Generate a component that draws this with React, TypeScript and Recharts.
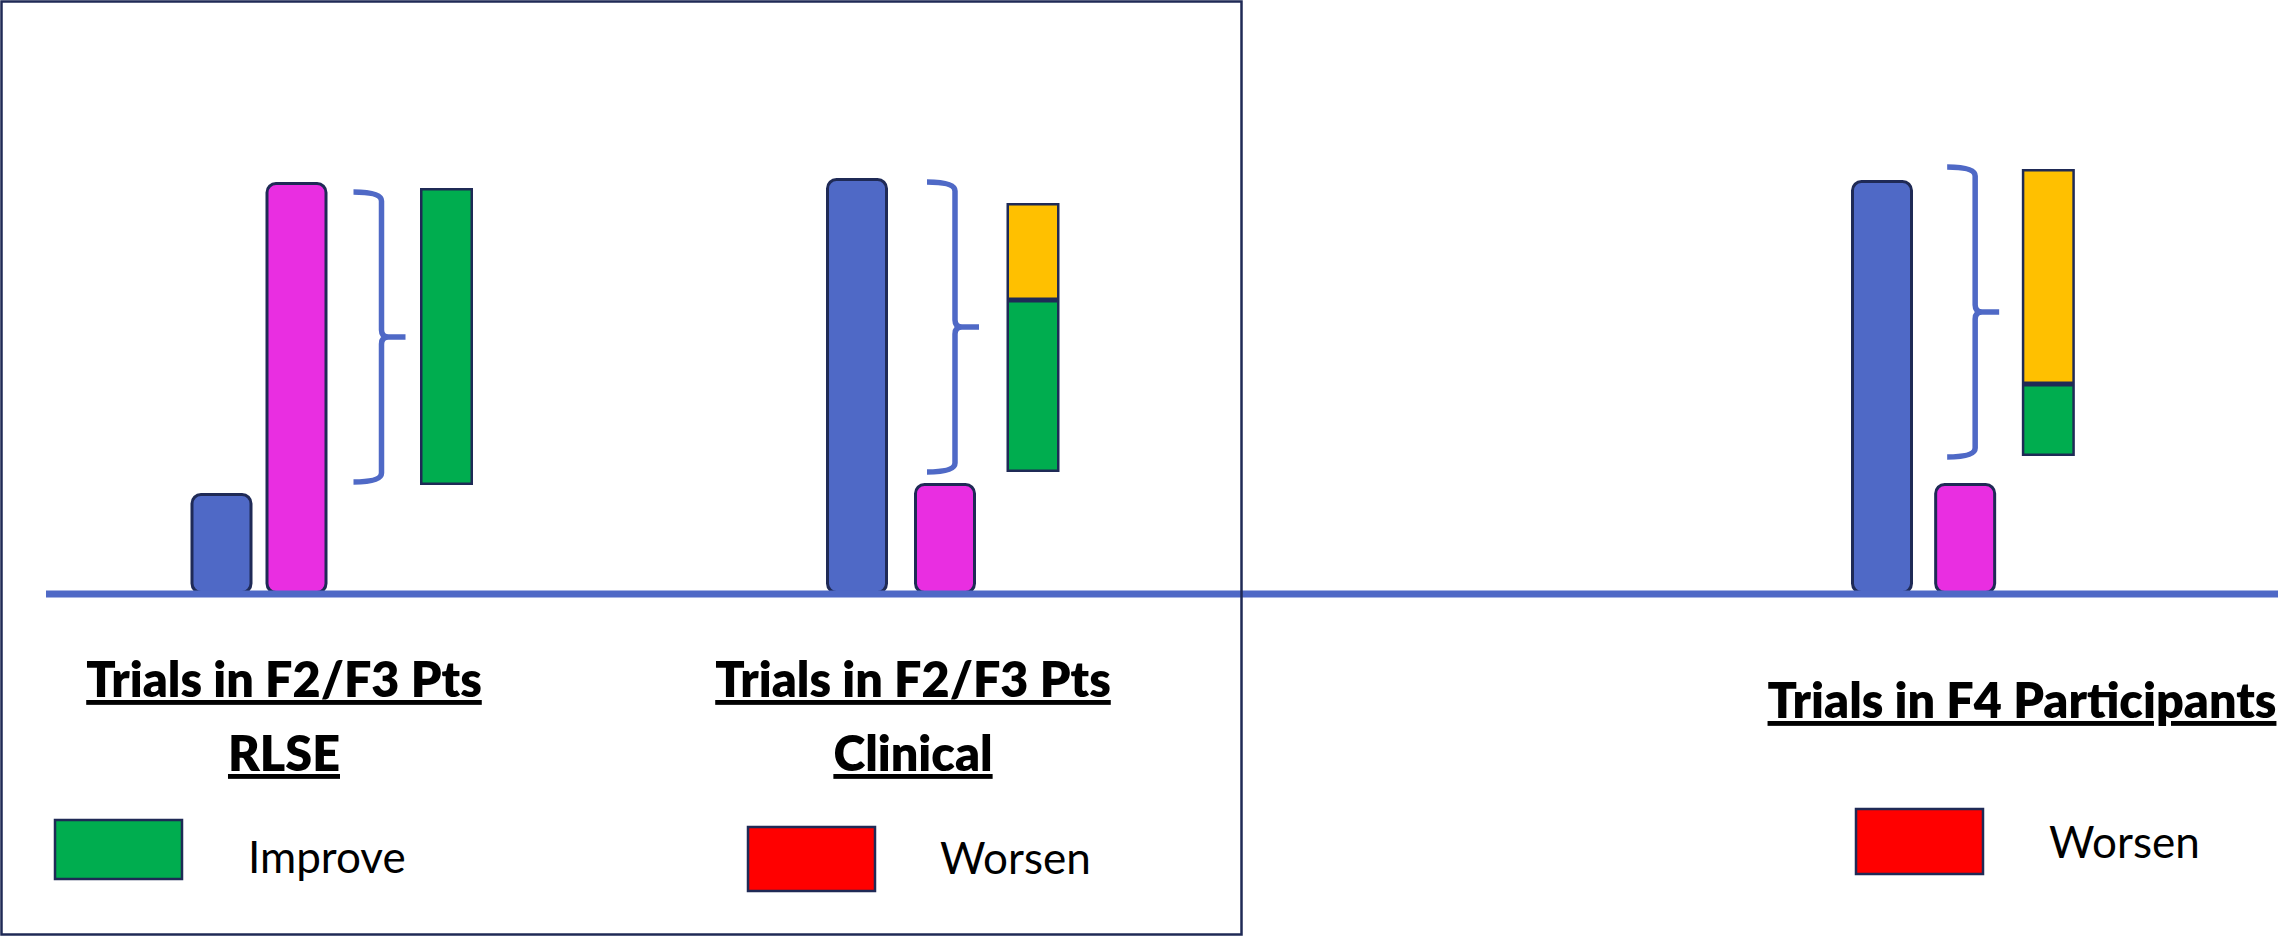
import React from 'react';
import { BarChart, Bar, XAxis, YAxis } from 'recharts';

// Schematic heights (0 = baseline, 100 = top of the scale)
const PANEL_NAMES = ['RLSE', 'Clinical', 'F4'];
const BLUE_HEIGHT = [20.2, 83.2, 82.8];
const MAGENTA_HEIGHT = [82.4, 22.2, 22.2];
const BRACE_LOW = [22.4, 24.4, 27.4];
const BRACE_HIGH = [80.4, 82.4, 85.4];
const IMPROVE_LOW = [21.8, 24.4, 27.6];
const IMPROVE_HIGH = [81.2, 58.8, 42];
const NEUTRAL_HIGH = [0, 78.2, 85];

const TITLE_LINES = [
  ['Trials in F2/F3 Pts', 'RLSE'],
  ['Trials in F2/F3 Pts', 'Clinical'],
  ['Trials in F4 Participants'],
];
const LEGEND_LABELS = ['Improve', 'Worsen', 'Worsen'];

const COLORS = {
  blue: '#4F69C6',
  magenta: '#E92EE1',
  improve: '#00AD4F',
  neutral: '#FFC000',
  worsen: '#FF0000',
  outline: '#1F2A56',
  axis: '#4F69C6',
};
const LEGEND_COLORS = [COLORS.improve, COLORS.worsen, COLORS.worsen];

const FONT = "Lato, 'Open Sans', sans-serif";
const PAGE_W = 2278;
const PAGE_H = 937;
const AXIS_H = 1;

// where each panel's chart sits on the page
const CHART_FRAMES = [
  { left: 0, width: 650, marginLeft: 46, padLeft: 137.5, padRight: 166.5 },
  { left: 650, width: 800, marginLeft: 0, padLeft: 163, padRight: 373 },
  { left: 1450, width: 828, marginLeft: 0, padLeft: 390, padRight: 188.5 },
];

const buildRows = (i: number) => {
  const blue = { column: 'blue', blue: BLUE_HEIGHT[i] };
  const outcome = {
    column: 'outcome',
    spacerLow: IMPROVE_LOW[i],
    improve: IMPROVE_HIGH[i] - IMPROVE_LOW[i],
    neutral: NEUTRAL_HIGH[i] ? NEUTRAL_HIGH[i] - IMPROVE_HIGH[i] : 0,
  };
  const brace = BRACE_HIGH[i] - BRACE_LOW[i];
  if (i === 0) {
    return [
      blue,
      { column: 'magenta', magenta: MAGENTA_HEIGHT[i] },
      { column: 'spread', spacerLow: BRACE_LOW[i], brace },
      outcome,
    ];
  }
  return [
    blue,
    { column: 'magenta', magenta: MAGENTA_HEIGHT[i], spacerHigh: BRACE_LOW[i] - MAGENTA_HEIGHT[i], brace },
    outcome,
  ];
};

const roundedBar = (fill: string) => (props: any) => {
  const { x, y, width, height } = props;
  if (!height || height <= 0) return <g />;
  const sw = 3;
  return (
    <rect
      x={x + sw / 2}
      y={y + sw / 2}
      width={width - sw}
      height={height - sw}
      rx={9}
      ry={9}
      fill={fill}
      stroke={COLORS.outline}
      strokeWidth={sw}
    />
  );
};

const squareBar = (fill: string) => (props: any) => {
  const { x, y, width, height } = props;
  if (!height || height <= 0) return <g />;
  const sw = 2.5;
  const w = 53;
  const cx = x + width / 2;
  return (
    <rect
      x={cx - w / 2 + sw / 2}
      y={y + sw / 2}
      width={w - sw}
      height={height - sw}
      fill={fill}
      stroke={COLORS.outline}
      strokeWidth={sw}
    />
  );
};

const braceShape = (props: any) => {
  const { x, y, width, height } = props;
  if (!height || height <= 0) return <g />;
  const cx = x + width / 2 + 8;
  const left = cx - 26;
  const stem = cx + 2;
  const right = cx + 26;
  const top = y;
  const bottom = y + height;
  const mid = y + height / 2;
  const r = 9;
  const r2 = 7;
  const d = [
    `M ${left} ${top}`,
    `Q ${stem} ${top} ${stem} ${top + r}`,
    `L ${stem} ${mid - r2}`,
    `Q ${stem} ${mid} ${stem + r2} ${mid}`,
    `L ${right} ${mid}`,
    `M ${stem + r2} ${mid}`,
    `Q ${stem} ${mid} ${stem} ${mid + r2}`,
    `L ${stem} ${bottom - r}`,
    `Q ${stem} ${bottom} ${left} ${bottom}`,
  ].join(' ');
  return <path d={d} fill="none" stroke={COLORS.blue} strokeWidth={5.5} />;
};

const PanelChart = ({ index }: { index: number }) => {
  const frame = CHART_FRAMES[index];
  const rows = buildRows(index);
  return (
    <div style={{ position: 'absolute', left: frame.left, top: 0 }}>
      <BarChart
        width={frame.width}
        height={PAGE_H}
        data={rows}
        barSize={62}
        margin={{ top: 94, right: 0, bottom: PAGE_H - 594 - AXIS_H, left: frame.marginLeft }}
      >
        <YAxis hide type="number" domain={[0, 100]} allowDataOverflow />
        <Bar dataKey="spacerLow" stackId="s" fill="transparent" isAnimationActive={false} />
        <Bar dataKey="blue" stackId="s" shape={roundedBar(COLORS.blue)} isAnimationActive={false} />
        <Bar dataKey="magenta" stackId="s" shape={roundedBar(COLORS.magenta)} isAnimationActive={false} />
        <Bar dataKey="improve" stackId="s" shape={squareBar(COLORS.improve)} isAnimationActive={false} />
        <Bar dataKey="spacerHigh" stackId="s" fill="transparent" isAnimationActive={false} />
        <Bar dataKey="neutral" stackId="s" shape={squareBar(COLORS.neutral)} isAnimationActive={false} />
        <Bar dataKey="brace" stackId="s" shape={braceShape} isAnimationActive={false} />
        <XAxis
          dataKey="column"
          height={AXIS_H}
          tick={false}
          tickLine={false}
          axisLine={{ stroke: COLORS.axis, strokeWidth: 7 }}
          padding={{ left: frame.padLeft, right: frame.padRight }}
        />
      </BarChart>
    </div>
  );
};

// titles and legend swatches, one entry per panel
const TITLE_SPOTS = [
  { x: 284, y: 697 },
  { x: 913, y: 697 },
  { x: 2022, y: 718 },
];
const LEGEND_SPOTS = [
  { box: [55, 820, 127, 59], tx: 248, ty: 873 },
  { box: [748, 827, 127, 64], tx: 940, ty: 874 },
  { box: [1856, 809, 127, 65], tx: 2049, ty: 858 },
];

const Annotations = () => (
  <svg
    width={PAGE_W}
    height={PAGE_H}
    style={{ position: 'absolute', left: 0, top: 0, pointerEvents: 'none' }}
  >
    <rect x={1.5} y={1.5} width={1240} height={933} fill="none" stroke={COLORS.outline} strokeWidth={2.5} />
    {PANEL_NAMES.map((name, i) => (
      <g key={name}>
        {TITLE_LINES[i].map((line, j) => (
          <text
            key={line}
            x={TITLE_SPOTS[i].x}
            y={TITLE_SPOTS[i].y + j * 74}
            textAnchor="middle"
            fontFamily={FONT}
            fontWeight={800}
            fontSize={48.5}
            textDecoration="underline"
            fill="#000"
          >
            {line}
          </text>
        ))}
        <rect
          x={LEGEND_SPOTS[i].box[0]}
          y={LEGEND_SPOTS[i].box[1]}
          width={LEGEND_SPOTS[i].box[2]}
          height={LEGEND_SPOTS[i].box[3]}
          fill={LEGEND_COLORS[i]}
          stroke={COLORS.outline}
          strokeWidth={2.5}
        />
        <text x={LEGEND_SPOTS[i].tx} y={LEGEND_SPOTS[i].ty} fontFamily={FONT} fontSize={44} fill="#000">
          {LEGEND_LABELS[i]}
        </text>
      </g>
    ))}
  </svg>
);

export default function App() {
  return (
    <div style={{ position: 'absolute', left: 0, top: 0, width: PAGE_W, height: PAGE_H, background: '#fff' }}>
      {PANEL_NAMES.map((name, i) => (
        <PanelChart key={name} index={i} />
      ))}
      <Annotations />
    </div>
  );
}
